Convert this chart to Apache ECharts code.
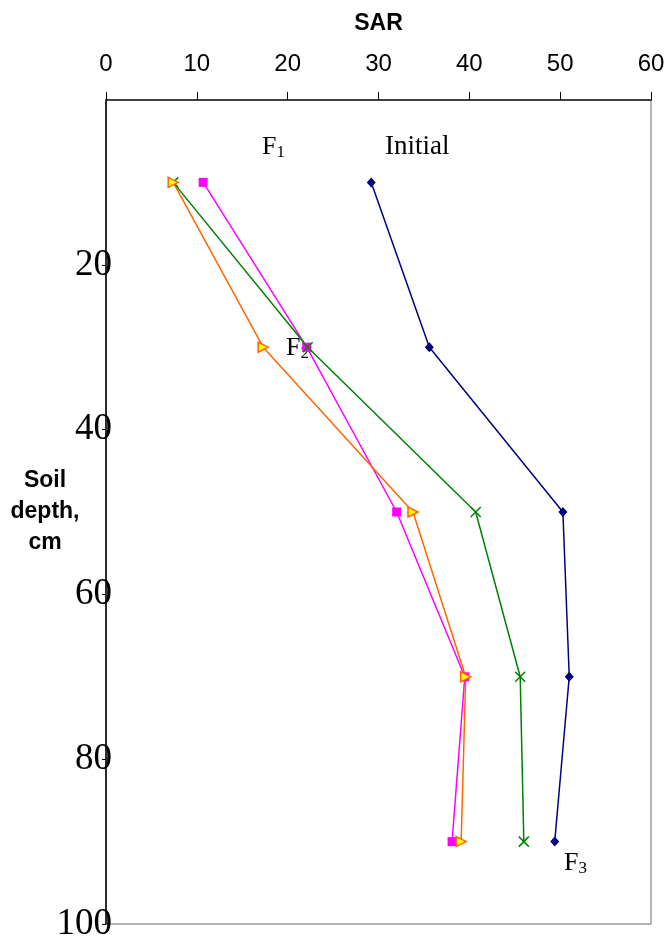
<!DOCTYPE html>
<html>
<head>
<meta charset="utf-8">
<script src="https://cdn.jsdelivr.net/npm/echarts@6/dist/echarts.min.js"></script>
<style>
  html, body { margin: 0; padding: 0; background: #fff; }
  #chart { width: 666px; height: 944px; }
</style>
</head>
<body>
<div id="chart"></div>
<script>
// Soil depth (cm) sampled for each profile
const depths = [10, 30, 50, 70, 90];

// SAR readings per treatment
const sarInitial = [29.2, 35.6, 50.3, 51.0, 49.4];
const sarF1 = [10.7, 22.1, 32.0, 39.5, 38.1];
const sarF2 = [7.4, 22.2, 40.7, 45.6, 46.0];
const sarF3 = [7.4, 17.3, 33.8, 39.6, 39.1];

// Axis ranges
const sarTicks = { min: 0, max: 60, step: 10 };
const depthTicks = { min: 0, max: 100, step: 20 };

const pairs = (xs) => xs.map((v, i) => [v, depths[i]]);

const chart = echarts.init(document.getElementById('chart'));

const serifFont = '"Liberation Serif", "Times New Roman", serif';
const sansFont = '"Liberation Sans", Arial, sans-serif';

const subLabel = (n) => ({
  text: '{m|F}{s|' + n + '}',
  rich: {
    m: { fontFamily: serifFont, fontSize: 26, fill: '#000' },
    s: { fontFamily: serifFont, fontSize: 17, fill: '#000', padding: [12, 0, 0, 0] }
  }
});

chart.setOption({
  animation: false,
  backgroundColor: '#ffffff',
  grid: {
    left: 106, right: 15, top: 100, bottom: 20,
    outerBoundsMode: 'none', containLabel: false,
    show: true, borderColor: '#a0a0a0', borderWidth: 1.5
  },
  xAxis: {
    type: 'value', position: 'top',
    min: sarTicks.min, max: sarTicks.max, interval: sarTicks.step,
    name: 'SAR', nameLocation: 'middle', nameGap: 65, nameMoveOverlap: false,
    nameTextStyle: { fontFamily: sansFont, fontWeight: 'bold', fontSize: 23, color: '#000' },
    axisLine: { lineStyle: { color: '#404040', width: 2 } },
    axisTick: { show: true, inside: false, length: 8, lineStyle: { color: '#000', width: 1 } },
    axisLabel: { margin: 24, fontFamily: sansFont, fontSize: 24, color: '#000' },
    splitLine: { show: false }
  },
  yAxis: {
    type: 'value', inverse: true,
    min: depthTicks.min, max: depthTicks.max, interval: depthTicks.step,
    name: 'Soil\ndepth,\ncm', nameLocation: 'middle', nameGap: 61, nameRotate: 0,
    nameMoveOverlap: false,
    nameTextStyle: { fontFamily: sansFont, fontWeight: 'bold', fontSize: 23, color: '#000',
                     align: 'center', verticalAlign: 'middle', lineHeight: 31,
                     padding: [8, 0, 0, 0] },
    axisLine: { lineStyle: { color: '#000', width: 1.5 } },
    axisTick: { show: true, length: 4, lineStyle: { color: '#000' } },
    axisLabel: {
      margin: -6, fontFamily: serifFont, fontSize: 37, color: '#000',
      showMinLabel: false
    },
    splitLine: { show: false }
  },
  series: [
    {
      name: 'Initial', type: 'line', data: pairs(sarInitial),
      symbol: 'diamond', symbolSize: [9, 10],
      lineStyle: { color: '#000080', width: 1.5 },
      itemStyle: { color: '#000080' }
    },
    {
      name: 'F1', type: 'line', data: pairs(sarF1),
      symbol: 'rect', symbolSize: 9,
      lineStyle: { color: '#ff00ff', width: 1.5 },
      itemStyle: { color: '#ff00ff' }
    },
    {
      name: 'F2', type: 'line', data: pairs(sarF2),
      symbol: 'path://M0,0L10,10M10,0L0,10', symbolSize: 10,
      lineStyle: { color: '#008000', width: 1.5 },
      itemStyle: { color: 'rgba(0,0,0,0)', borderColor: '#008000', borderWidth: 1.5 }
    },
    {
      name: 'F3', type: 'line', data: pairs(sarF3),
      symbol: 'triangle', symbolSize: 10, symbolRotate: -90,
      lineStyle: { color: '#ff6600', width: 1.5 },
      itemStyle: { color: '#ffff00', borderColor: '#ff6600', borderWidth: 1.5 }
    }
  ],
  graphic: [
    { type: 'text', left: 262, top: 134, style: subLabel(1) },
    {
      type: 'text', left: 385, top: 133,
      style: { text: 'Initial', fontFamily: serifFont, fontSize: 27, fill: '#000' }
    },
    { type: 'text', left: 286, top: 335, style: subLabel(2) },
    { type: 'text', left: 564, top: 850, style: subLabel(3) }
  ]
});
</script>
</body>
</html>
